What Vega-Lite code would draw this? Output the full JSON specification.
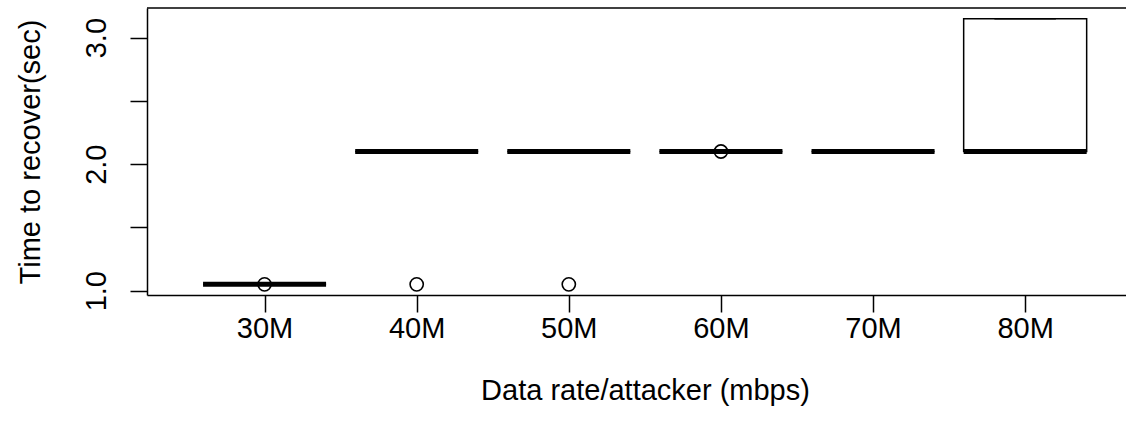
{
  "$schema": "https://vega.github.io/schema/vega-lite/v6.json",
  "autosize": "none",
  "width": 979,
  "height": 287,
  "padding": {"left": 147, "top": 8, "right": 0, "bottom": 138},
  "background": "white",
  "config": {"view": {"stroke": null}, "font": "Liberation Sans"},
  "datasets": {
    "boxes": [
      {"rate": "30M", "pos": 1, "lower": 1.05, "q1": 1.05, "median": 1.05, "q3": 1.05, "upper": 1.05},
      {"rate": "40M", "pos": 2, "lower": 2.1, "q1": 2.1, "median": 2.1, "q3": 2.1, "upper": 2.1},
      {"rate": "50M", "pos": 3, "lower": 2.1, "q1": 2.1, "median": 2.1, "q3": 2.1, "upper": 2.1},
      {"rate": "60M", "pos": 4, "lower": 2.1, "q1": 2.1, "median": 2.1, "q3": 2.1, "upper": 2.1},
      {"rate": "70M", "pos": 5, "lower": 2.1, "q1": 2.1, "median": 2.1, "q3": 2.1, "upper": 2.1},
      {"rate": "80M", "pos": 6, "lower": 2.1, "q1": 2.1, "median": 2.1, "q3": 3.15, "upper": 3.15}
    ],
    "outliers": [
      {"rate": "30M", "pos": 1, "value": 1.05},
      {"rate": "40M", "pos": 2, "value": 1.05},
      {"rate": "50M", "pos": 3, "value": 1.05},
      {"rate": "60M", "pos": 4, "value": 2.1}
    ]
  },
  "layer": [
    {
      "data": {"name": "boxes"},
      "mark": {"type": "bar", "width": 123, "fill": "white", "stroke": "black", "strokeWidth": 1.5},
      "encoding": {
        "x": {
          "field": "pos", "type": "quantitative",
          "scale": {"domain": [0.26, 6.63], "nice": false, "zero": false},
          "axis": {
            "values": [1, 2, 3, 4, 5, 6],
            "labelExpr": "['', '30M', '40M', '50M', '60M', '70M', '80M'][datum.value]",
            "grid": false,
            "domain": true, "domainColor": "black", "domainWidth": 1.5,
            "ticks": true, "tickSize": 17, "tickWidth": 1.5, "tickColor": "black",
            "labelFontSize": 29, "labelColor": "black", "labelBaseline": "alphabetic", "labelPadding": 25,
            "labelFlush": false, "labelOverlap": false,
            "title": "Data rate/attacker (mbps)",
            "titleFontSize": 29, "titleFontWeight": "normal", "titleColor": "black",
            "titleBaseline": "alphabetic", "titleAlign": "center", "titleX": 498, "titleY": 104
          }
        },
        "y": {
          "field": "q1", "type": "quantitative",
          "scale": {"domain": [0.966, 3.234], "nice": false, "zero": false},
          "axis": {
            "values": [1, 1.5, 2, 2.5, 3],
            "labelExpr": "datum.value % 1 == 0 ? format(datum.value, '.1f') : ''",
            "grid": false,
            "domain": true, "domainColor": "black", "domainWidth": 1.5,
            "ticks": true, "tickSize": 17, "tickWidth": 1.5, "tickColor": "black",
            "labelFontSize": 29, "labelColor": "black", "labelAngle": 270,
            "labelAlign": "center", "labelBaseline": "alphabetic", "labelPadding": 25,
            "labelFlush": false, "labelOverlap": false,
            "title": "Time to recover(sec)",
            "titleFontSize": 29, "titleFontWeight": "normal", "titleColor": "black",
            "titleAngle": 270, "titleBaseline": "alphabetic", "titleAlign": "center",
            "titleX": -108, "titleY": 143.5
          }
        },
        "y2": {"field": "q3"}
      }
    },
    {
      "data": {"name": "boxes"},
      "mark": {"type": "tick", "orient": "horizontal", "size": 61.5, "thickness": 1.5, "color": "black", "opacity": 1},
      "encoding": {
        "x": {"field": "pos", "type": "quantitative"},
        "y": {"field": "upper", "type": "quantitative"}
      }
    },
    {
      "data": {"name": "boxes"},
      "mark": {"type": "tick", "orient": "horizontal", "size": 61.5, "thickness": 1.5, "color": "black", "opacity": 1},
      "encoding": {
        "x": {"field": "pos", "type": "quantitative"},
        "y": {"field": "lower", "type": "quantitative"}
      }
    },
    {
      "data": {"name": "boxes"},
      "mark": {"type": "tick", "orient": "horizontal", "size": 123, "thickness": 5, "color": "black", "opacity": 1},
      "encoding": {
        "x": {"field": "pos", "type": "quantitative"},
        "y": {"field": "median", "type": "quantitative"}
      }
    },
    {
      "data": {"name": "outliers"},
      "mark": {"type": "point", "shape": "circle", "filled": false, "size": 175, "stroke": "black", "strokeWidth": 1.6, "opacity": 1},
      "encoding": {
        "x": {"field": "pos", "type": "quantitative"},
        "y": {"field": "value", "type": "quantitative"}
      }
    },
    {
      "data": {"values": [{}]},
      "mark": {"type": "rule", "color": "black", "strokeWidth": 1.5},
      "encoding": {
        "y": {"datum": 3.234, "type": "quantitative"}
      }
    }
  ]
}
